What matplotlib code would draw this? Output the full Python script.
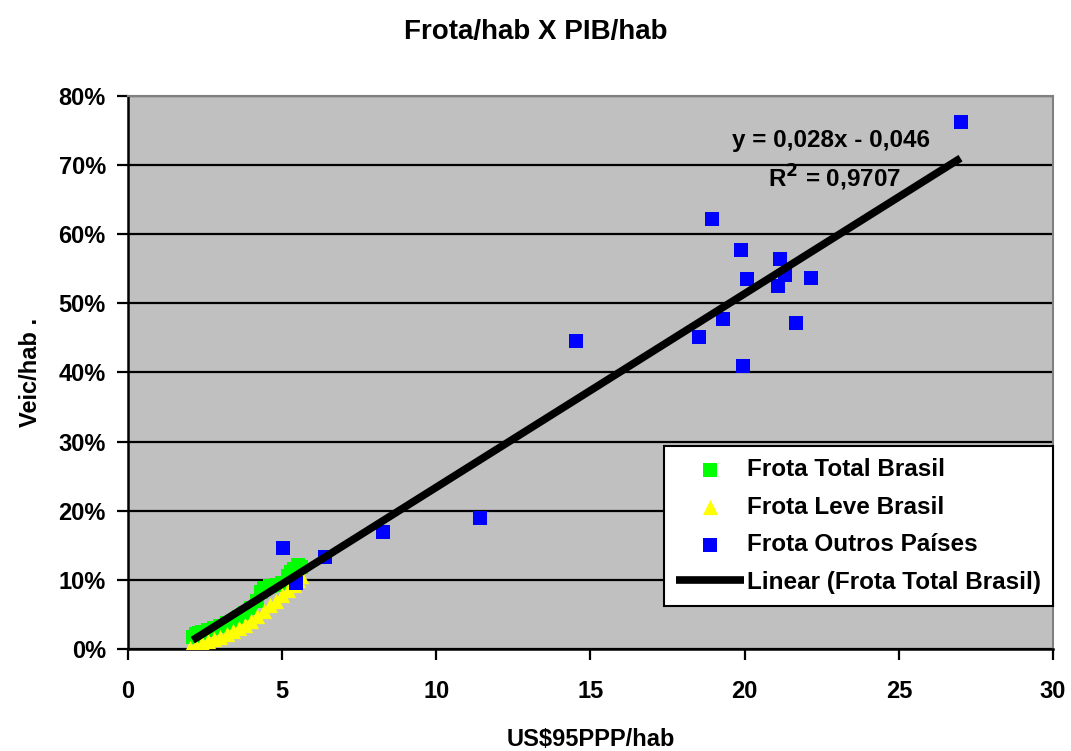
import numpy as np
import matplotlib
matplotlib.use("Agg")
import matplotlib.pyplot as plt
from matplotlib.ticker import FuncFormatter

plt.rcParams['font.family'] = ['Liberation Sans', 'DejaVu Sans']
plt.rcParams['font.weight'] = 'bold'
plt.rcParams['axes.labelweight'] = 'bold'

# Frota Total Brasil (PIB/hab, veic/hab)
total_x = [2.1, 2.2, 2.3, 2.4, 2.6, 2.8, 3.0, 3.2, 3.4, 3.6, 3.8, 4.0,
           4.2, 4.3, 4.4, 4.6, 4.8, 5.0, 5.2, 5.3, 5.4, 5.5, 5.6]
total_y = [0.018, 0.021, 0.023, 0.025, 0.028, 0.031, 0.034, 0.037, 0.041, 0.046, 0.052, 0.060,
           0.070, 0.082, 0.088, 0.091, 0.093, 0.096, 0.106, 0.112, 0.116, 0.121, 0.119]

# Frota Leve Brasil
leve_x = [2.0, 2.2, 2.4, 2.6, 2.8, 3.0, 3.2, 3.4, 3.6, 3.8, 4.0, 4.2,
          4.4, 4.6, 4.8, 5.0, 5.2, 5.4, 5.5, 5.6]
leve_y = [0.002, 0.005, 0.008, 0.011, 0.014, 0.018, 0.022, 0.026, 0.030, 0.035, 0.041, 0.048,
          0.055, 0.063, 0.070, 0.078, 0.086, 0.093, 0.100, 0.105]

# Frota Outros Paises
outros_x = [27.02, 18.93, 19.88, 21.15, 21.31, 20.08, 21.07, 22.14, 19.29, 21.66,
            18.53, 14.53, 19.96, 11.42, 8.26, 5.02, 6.39, 5.45]
outros_y = [0.762, 0.622, 0.577, 0.564, 0.541, 0.535, 0.525, 0.536, 0.478, 0.472,
            0.452, 0.445, 0.409, 0.190, 0.169, 0.146, 0.133, 0.096]

# trend line (from the equation label)
slope = 0.028
intercept = -0.046
trend_x = [2.1, 27.0]

fig = plt.figure(figsize=(10.71, 7.51), dpi=100)
ax = fig.add_axes([0.1195, 0.1358, 0.8637, 0.7364])
ax.set_facecolor("#C0C0C0")

ax.scatter(total_x, total_y, marker="s", s=110, color="#00FF00", linewidths=0,
           label="Frota Total Brasil", zorder=3)
ax.scatter(leve_x, leve_y, marker="^", s=120, color="#FFFF00", linewidths=0,
           label="Frota Leve Brasil", zorder=4)
ax.scatter(outros_x, outros_y, marker="s", s=110, color="#0000FF", linewidths=0,
           label="Frota Outros Países", zorder=5)
tx = np.array(trend_x)
ax.plot(tx, slope * tx + intercept, color="black", lw=5.5,
        label="Linear (Frota Total Brasil)", zorder=6, solid_capstyle="butt")

ax.set_xlim(0, 30)
ax.set_ylim(0, 0.8)
ax.set_xticks(range(0, 31, 5))
ax.set_yticks(np.arange(0, 0.81, 0.1))
ax.yaxis.set_major_formatter(FuncFormatter(lambda v, p: f"{v*100:.0f}%"))
ax.grid(axis="y", color="black", lw=1.6, zorder=1)
ax.set_axisbelow(True)
ax.tick_params(direction="out", length=8, width=1.6, labelsize=17)
ax.tick_params(axis="x", pad=14)
ax.tick_params(axis="y", pad=8)

ax.spines["left"].set_color("black")
ax.spines["bottom"].set_color("black")
ax.spines["left"].set_linewidth(1.8)
ax.spines["bottom"].set_linewidth(1.8)
ax.spines["top"].set_color("#808080")
ax.spines["right"].set_color("#808080")
ax.spines["top"].set_linewidth(1.5)
ax.spines["right"].set_linewidth(1.5)

ax.text(22.8, 0.736, "y = 0,028x - 0,046", ha="center", va="center", fontsize=17.5)
ax.text(22.9, 0.681, "R$^2$ = 0,9707", ha="center", va="center", fontsize=17.5)

fig.suptitle("Frota/hab X PIB/hab", y=0.975, fontsize=20, fontweight="bold")
ax.set_xlabel("US$95PPP/hab", fontsize=17, labelpad=18)
ax.set_ylabel("Veic/hab .", fontsize=17, labelpad=12)

leg = ax.legend(loc="lower right", bbox_to_anchor=(1.0, 0.078), fontsize=17.5,
                frameon=True, fancybox=False, edgecolor="black", framealpha=1,
                borderaxespad=0, handlelength=2.8, handletextpad=0.1,
                labelspacing=0.6, scatterpoints=1, borderpad=0.5)
leg.get_frame().set_linewidth(1.5)

fig.savefig("out.png", dpi=100)
